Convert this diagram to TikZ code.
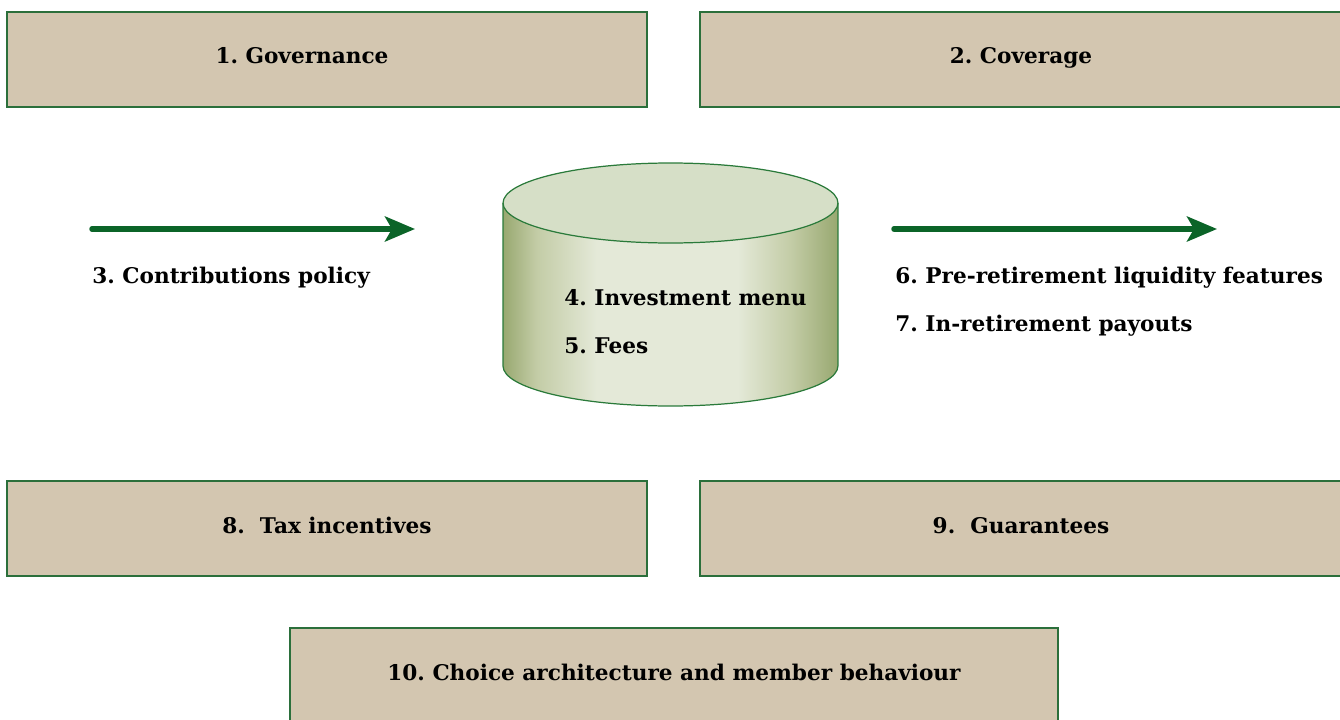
\documentclass[tikz,border=0pt]{standalone}
\usepackage{fontspec}
\setmainfont{DejaVu Serif}
\frenchspacing
\usepackage{tikz}
\usetikzlibrary{arrows.meta, positioning}
\usepackage{xcolor}
\definecolor{boxfill}{HTML}{D3C6B0}
\definecolor{boxline}{HTML}{2B6F3B}
\definecolor{flowgreen}{HTML}{0B6428}
\definecolor{cyldark}{HTML}{98A870}
\definecolor{cylmid}{HTML}{C3CCA6}
\definecolor{cyllight}{HTML}{E4E9D8}
\definecolor{cyltop}{HTML}{D6DFC7}
\definecolor{cylline}{HTML}{2A7A3A}
\pgfdeclarehorizontalshading{cylbody}{100bp}{color(0bp)=(cyldark); color(25bp)=(cyldark);
	color(30bp)=(cylmid); color(39bp)=(cyllight); color(60bp)=(cyllight);
	color(68bp)=(cylmid); color(75bp)=(cyldark); color(100bp)=(cyldark)}
\tikzset{%
	pillar/.style={
		draw=boxline,
		fill=boxfill,
		line width=0.7pt,
		minimum width=12.8cm,
		minimum height=1.9cm,
		text height=9pt,
		text depth=3pt,
		font=\bfseries\fontsize{12.3}{14}\selectfont
	},
	item/.style={
		anchor=base west,
		inner sep=0pt,
		font=\bfseries\fontsize{12.3}{14}\selectfont
	},
	flow/.style={
		draw=flowgreen,
		line width=0.11cm,
		line cap=round,
		-{Stealth[length=0.6cm, width=0.5cm, inset=0.14cm]}
	},
}

\begin{document}
\begin{tikzpicture}[x=0.02cm, y=-0.02cm]
	\useasboundingbox (0,0) rectangle (1340,720);
	
	% Draw the top row of boxes
	\node[pillar, text depth=4.5pt] (governance) at (327,59.5) {\hspace*{-1cm}1. Governance};
	\node[pillar, text depth=4.5pt, minimum width=12.84cm] (coverage) at (1021,59.5) {2. Coverage};
	
	% Draw the cylinder
	\shade[shading=cylbody]
		(503,203) -- (503,366) arc[start angle=180, end angle=360, x radius=3.35cm, y radius=0.8cm] -- (838,203) -- cycle;
	\draw[cylline, line width=0.7pt, fill=cyltop] (670.5,203) ellipse [x radius=3.35cm, y radius=0.8cm];
	\draw[cylline, line width=0.7pt] (503,203) -- (503,366) arc[start angle=180, end angle=360, x radius=3.35cm, y radius=0.8cm] -- (838,203);
	\node[item] (invest) at (564,305) {4. Investment menu};
	\node[item] (fees) at (564,353) {5. Fees};
	
	% Draw the arrows
	\coordinate (in start) at (92,229);
	\coordinate (in end) at (415,229);
	\draw[flow] (in start) -- (in end);
	\node[item] (contrib) at (92,283) {3. Contributions policy};
	
	\coordinate (out start) at (894,229);
	\coordinate (out end) at (1217,229);
	\draw[flow] (out start) -- (out end);
	\node[item] (liquidity) at (895,283) {6. Pre-retirement liquidity features};
	\node[item] (payouts) at (895,331) {7. In-retirement payouts};
	
	% Draw the bottom boxes
	\node[pillar] (tax) at (327,528.5) {8.~~Tax incentives};
	\node[pillar, minimum width=12.84cm] (guarantees) at (1021,528.5) {9.~~Guarantees};
	\node[pillar, minimum width=15.36cm] (choice) at (674,675.5) {10. Choice architecture and member behaviour};
\end{tikzpicture}
\end{document}
